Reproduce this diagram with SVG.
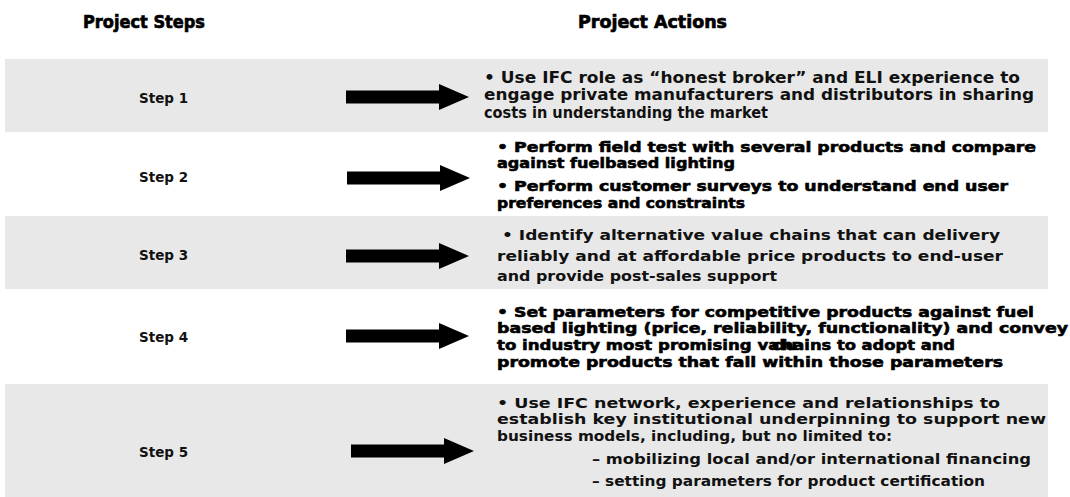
<svg xmlns="http://www.w3.org/2000/svg" width="1070" height="497" viewBox="0 0 1070 497">
  <defs>
    <style>
      .band { fill: #e8e8e8; }
      .hdr { font-family: "DejaVu Sans", Verdana, sans-serif; font-weight: bold; font-size: 18px; fill: #000; stroke: #000; stroke-width: 0.7; }
      .step { font-family: "DejaVu Sans", Verdana, sans-serif; font-weight: bold; font-size: 13.5px; fill: #111; }
      .act { font-family: "DejaVu Sans", Verdana, sans-serif; font-weight: bold; font-size: 14.5px; fill: #111; }
      .act-c { font-family: "DejaVu Sans", Verdana, sans-serif; font-weight: bold; font-size: 15.5px; fill: #111; }
      .act-h { font-family: "DejaVu Sans", Verdana, sans-serif; font-weight: bold; font-size: 14.5px; fill: #000; stroke: #000; stroke-width: 0.6; }
      .arrow { fill: #000; }
    </style>
    <!-- block arrow, tail at 0, tip at 123, centred on y=0 -->
    <path id="blockArrow" class="arrow" d="M0,-6.5 H93 V-13 L123,0 L93,13 V6.5 H0 Z"/>
  </defs>

  <rect width="1070" height="497" fill="#ffffff"/>

  <!-- alternating row backgrounds -->
  <g id="bands">
    <rect class="band" x="5" y="59" width="1043" height="73"/>
    <rect class="band" x="5" y="216" width="1043" height="73"/>
    <rect class="band" x="5" y="384" width="1043" height="113"/>
  </g>

  <!-- column headings -->
  <g id="headers">
    <text class="hdr" x="83" y="28" textLength="122" lengthAdjust="spacingAndGlyphs">Project Steps</text>
    <text class="hdr" x="578" y="28" textLength="149" lengthAdjust="spacingAndGlyphs">Project Actions</text>
  </g>

  <g id="step1">
    <text class="step" x="139" y="103">Step 1</text>
  </g>
  <g id="step2">
    <text class="step" x="139" y="182">Step 2</text>
  </g>
  <g id="step3">
    <text class="step" x="139" y="260">Step 3</text>
  </g>
  <g id="step4">
    <text class="step" x="139" y="342">Step 4</text>
  </g>
  <g id="step5">
    <text class="step" x="139" y="457">Step 5</text>
  </g>

  <!-- arrows from each step to its actions -->
  <g id="connectors">
    <use href="#blockArrow" x="346" y="97"/>
    <use href="#blockArrow" x="347" y="178"/>
    <use href="#blockArrow" x="346" y="256"/>
    <use href="#blockArrow" x="346" y="336"/>
    <use href="#blockArrow" x="351" y="451"/>
  </g>

  <g id="action1">
    <text class="act-c" x="484" y="83" textLength="536" lengthAdjust="spacingAndGlyphs">• Use IFC role as “honest broker” and ELI experience to</text>
    <text class="act-c" x="484" y="100" textLength="550" lengthAdjust="spacingAndGlyphs">engage private manufacturers and distributors in sharing</text>
    <text class="act-c" x="484" y="118" textLength="284" lengthAdjust="spacingAndGlyphs">costs in understanding the market</text>
  </g>

  <g id="action2">
    <text class="act-h" x="497" y="152" textLength="539" lengthAdjust="spacingAndGlyphs">• Perform field test with several products and compare</text>
    <text class="act-h" x="497" y="168" textLength="238" lengthAdjust="spacingAndGlyphs">against fuelbased lighting</text>
    <text class="act-h" x="497" y="191" textLength="511" lengthAdjust="spacingAndGlyphs">• Perform customer surveys to understand end user</text>
    <text class="act-h" x="497" y="208" textLength="248" lengthAdjust="spacingAndGlyphs">preferences and constraints</text>
  </g>

  <g id="action3">
    <text class="act" x="502" y="240" textLength="498" lengthAdjust="spacingAndGlyphs">• Identify alternative value chains that can delivery</text>
    <text class="act" x="497" y="261" textLength="506" lengthAdjust="spacingAndGlyphs">reliably and at affordable price products to end-user</text>
    <text class="act" x="497" y="281" textLength="280" lengthAdjust="spacingAndGlyphs">and provide post-sales support</text>
  </g>

  <g id="action4">
    <text class="act-h" x="497" y="317" textLength="537" lengthAdjust="spacingAndGlyphs">• Set parameters for competitive products against fuel</text>
    <text class="act-h" x="497" y="333" textLength="571" lengthAdjust="spacingAndGlyphs">based lighting (price, reliability, functionality) and convey</text>
    <!-- "valu" and "chains" overprint each other on this line -->
    <text class="act-h" x="497" y="350" textLength="300" lengthAdjust="spacingAndGlyphs">to industry most promising valu</text>
    <text class="act-h" x="772" y="350" textLength="183" lengthAdjust="spacingAndGlyphs">chains to adopt and</text>
    <text class="act-h" x="497" y="367" textLength="506" lengthAdjust="spacingAndGlyphs">promote products that fall within those parameters</text>
  </g>

  <g id="action5">
    <text class="act" x="497" y="408" textLength="503" lengthAdjust="spacingAndGlyphs">• Use IFC network, experience and relationships to</text>
    <text class="act" x="497" y="424" textLength="549" lengthAdjust="spacingAndGlyphs">establish key institutional underpinning to support new</text>
    <text class="act" x="497" y="441" textLength="395" lengthAdjust="spacingAndGlyphs">business models, including, but no limited to:</text>
    <text class="act" x="592" y="464" textLength="439" lengthAdjust="spacingAndGlyphs">– mobilizing local and/or international financing</text>
    <text class="act" x="592" y="486" textLength="393" lengthAdjust="spacingAndGlyphs">– setting parameters for product certification</text>
  </g>
</svg>
